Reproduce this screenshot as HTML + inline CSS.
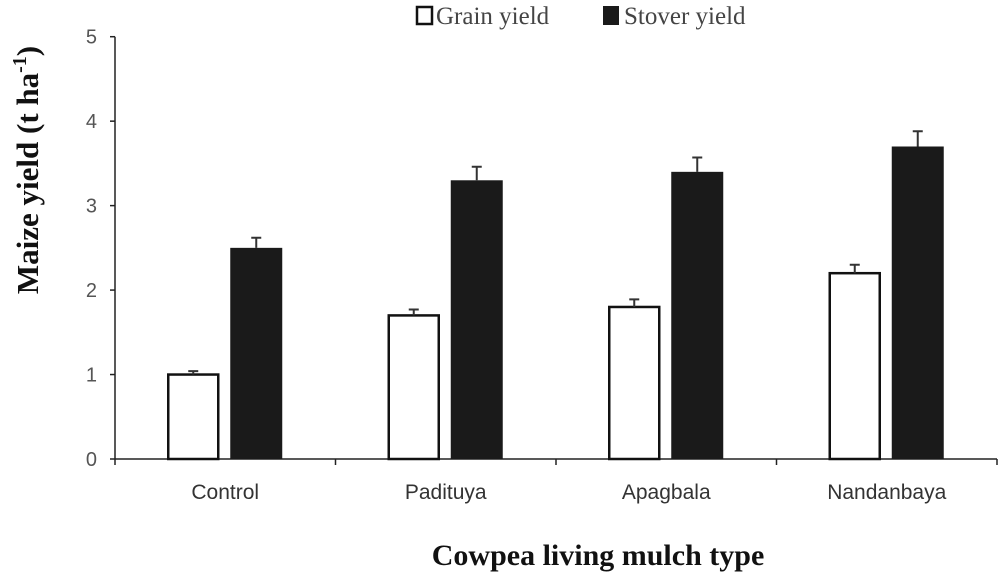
<!DOCTYPE html>
<html><head><meta charset="utf-8"><style>
body{margin:0;background:#fff;width:999px;height:577px;overflow:hidden}
svg text{font-family:"Liberation Sans",sans-serif}
</style></head><body>
<svg id="chart" width="999" height="577">
<g>
<rect x="417" y="7" width="15" height="17" fill="#fff" stroke="#111" stroke-width="2.5"/>
<text x="436" y="24" style="font-family:'Liberation Serif',serif" font-size="25" fill="#444">Grain yield</text>
<rect x="603" y="6" width="16" height="19" fill="#1a1a1a"/>
<text x="624" y="24" style="font-family:'Liberation Serif',serif" font-size="25" fill="#444">Stover yield</text>
</g>
<text transform="translate(38,170) rotate(-90)" text-anchor="middle" style="font-family:'Liberation Serif',serif" font-weight="bold" font-size="31" fill="#111">Maize yield (t ha<tspan dy="-12" font-size="20">-1</tspan><tspan dy="12">)</tspan></text>
<text x="598" y="565" text-anchor="middle" style="font-family:'Liberation Serif',serif" font-weight="bold" font-size="30" fill="#111">Cowpea living mulch type</text>
<g id="plot"></g>
</svg>
<script>
const categories=["Control","Padituya","Apagbala","Nandanbaya"];
const grainYield=[1.0,1.7,1.8,2.2];
const grainErr=[0.04,0.07,0.09,0.1];
const stoverYield=[2.5,3.3,3.4,3.7];
const stoverErr=[0.12,0.16,0.17,0.18];
const yTicks=[0,1,2,3,4,5];
const NS="http://www.w3.org/2000/svg";
const X0=115,X1=997,Y0=459,YTOP=36.7;
const y=v=>Y0-(Y0-YTOP)*v/5;
const band=(X1-X0)/categories.length;
const cx=i=>X0+band*(i+0.5);
const g=document.getElementById('plot');
function mk(t,a){const e=document.createElementNS(NS,t);for(const k in a)e.setAttribute(k,a[k]);g.appendChild(e);return e;}
let ax=mk('line',{x1:X0,y1:YTOP,x2:X0,y2:Y0,stroke:'#222','stroke-width':1.5});


let xa=mk('line',{x1:X0,y1:Y0,x2:X1,y2:Y0,stroke:'#222','stroke-width':1.5});


yTicks.forEach(v=>{
 let t=mk('line',{x1:X0-5,y1:y(v),x2:X0,y2:y(v),stroke:'#222','stroke-width':1.5});
 
 
 let l=mk('text',{x:X0-18,y:y(v)+7,'text-anchor':'end','font-size':20,fill:'#555'});
 l.textContent=v;
 
 
});
for(let i=0;i<=categories.length;i++){
 let t=mk('line',{x1:X0+band*i,y1:Y0,x2:X0+band*i,y2:Y0+6,stroke:'#222','stroke-width':1.5});
 
 
}
function errBar(x,v,e){
 let l=mk('path',{d:`M${x},${y(v)} V${y(v+e)} M${x-5},${y(v+e)} H${x+5}`,stroke:'#333','stroke-width':2,fill:'none'});
 
 
}
categories.forEach((c,i)=>{
 const gx=cx(i)-32,sx=cx(i)+31,w=50;
 let b=mk('rect',{x:gx-w/2,y:y(grainYield[i]),width:w,height:Y0-y(grainYield[i]),fill:'#fff',stroke:'#111','stroke-width':2.5});
 
 
 errBar(gx,grainYield[i],grainErr[i]);
 let s=mk('rect',{x:sx-w/2-1,y:y(stoverYield[i]),width:w+2,height:Y0-y(stoverYield[i]),fill:'#1a1a1a'});
 
 
 errBar(sx,stoverYield[i],stoverErr[i]);
 let l=mk('text',{x:cx(i),y:499,'text-anchor':'middle','font-size':21,fill:'#333'});
 l.textContent=c;
 
 
});
</script>
</body></html>
